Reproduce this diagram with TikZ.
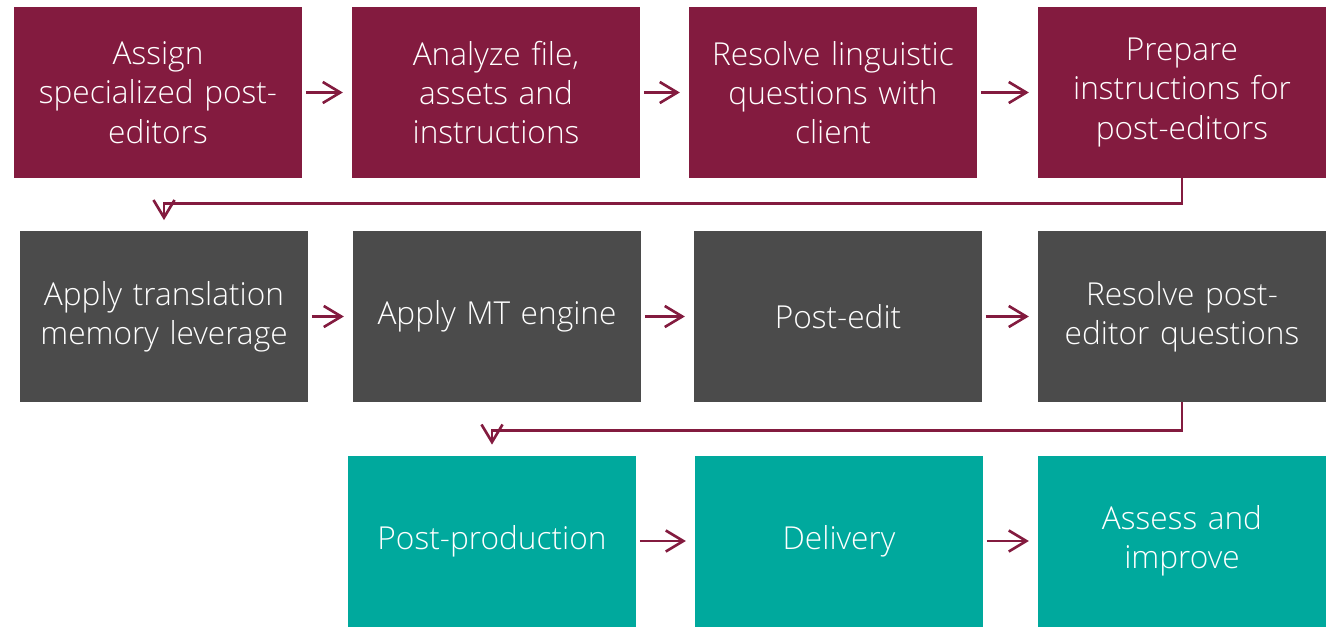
\documentclass[tikz,border=0pt]{standalone}
\usepackage{fontspec}
\setmainfont{Open Sans Light}
\usetikzlibrary{arrows.meta,calc}
\definecolor{wine}{RGB}{131, 27, 63}
\definecolor{darkgray}{RGB}{75, 75, 75}
\definecolor{teal}{RGB}{0, 169, 157}
\begin{document}
\begin{tikzpicture}[>={Straight Barb[length=10pt,width=12pt]},
    box/.style={minimum width=5.76cm, minimum height=3.42cm,
                text width=5.4cm, align=center, text=white,
                font=\fontsize{18}{22.3}\selectfont, inner sep=0pt},
    wbox/.style={box, fill=wine},
    gbox/.style={box, fill=darkgray},
    tbox/.style={box, fill=teal},
    flow/.style={->, wine, line width=1.5pt, shorten <=2pt, shorten >=5pt},
    turn/.style={->, wine, line width=1.5pt, shorten >=6pt}]
  \useasboundingbox (0,0) rectangle (26.64,-12.52);
  % Nodes
  \node[wbox] (assign)  at (3.16,-1.85)  {Assign\\specialized post-\\editors};
  \node[wbox] (analyze) at (9.92,-1.85)  {Analyze file,\\assets and\\instructions};
  \node[wbox] (resolve) at (16.66,-1.85) {Resolve linguistic\\questions with\\client};
  \node[wbox] (prepare) at (23.64,-1.85) {Prepare\\instructions for\\post-editors};

  \node[gbox] (tm)      at (3.28,-6.33)  {Apply translation\\memory leverage};
  \node[gbox] (mt)      at (9.94,-6.33)  {Apply MT engine};
  \node[gbox] (pe)      at (16.76,-6.33) {Post-edit};
  \node[gbox] (pequest) at (23.64,-6.33) {Resolve post-\\editor questions};

  \node[tbox] (postprod) at (9.84,-10.82)  {Post-production};
  \node[tbox] (deliver)  at (16.78,-10.82) {Delivery};
  \node[tbox] (assess)   at (23.64,-10.82) {Assess and\\improve};

  % Arrows
  \draw[flow] (assign)  -- (analyze);
  \draw[flow] (analyze) -- (resolve);
  \draw[flow] (resolve) -- (prepare);
  \draw[turn] (prepare.south) -- ++(0,-0.5) -| (tm.north);
  \draw[flow] (tm) -- (mt);
  \draw[flow] (mt) -- (pe);
  \draw[flow] (pe) -- (pequest);
  \draw[turn] (pequest.south) -- ++(0,-0.56) -| (postprod.north);
  \draw[flow] (postprod) -- (deliver);
  \draw[flow] (deliver)  -- (assess);
\end{tikzpicture}
\end{document}
